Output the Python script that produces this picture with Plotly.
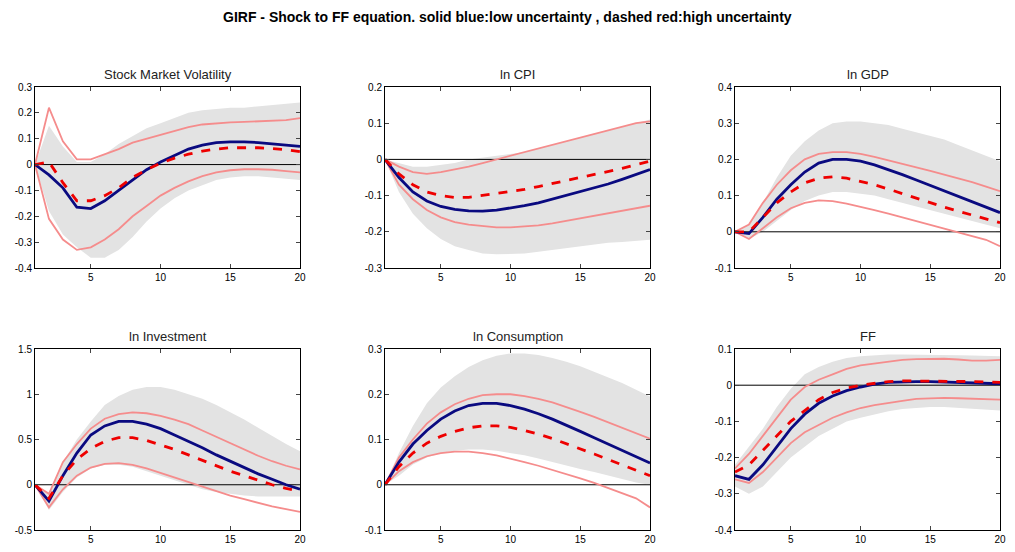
import plotly.graph_objects as go

h = list(range(1, 21))
titles = ["Stock Market Volatility", "ln CPI", "ln GDP", "ln Investment", "ln Consumption", "FF"]
yranges = [(-0.4, 0.3), (-0.3, 0.2), (-0.1, 0.4), (-0.5, 1.5), (-0.1, 0.3), (-0.4, 0.1)]
ytickvals = [
 [-0.4,-0.3,-0.2,-0.1,0,0.1,0.2,0.3],
 [-0.3,-0.2,-0.1,0,0.1,0.2],
 [-0.1,0,0.1,0.2,0.3,0.4],
 [-0.5,0,0.5,1,1.5],
 [-0.1,0,0.1,0.2,0.3],
 [-0.4,-0.3,-0.2,-0.1,0,0.1],
]
xtickvals = [5, 10, 15, 20]

low = [
 [0,-0.04,-0.09,-0.165,-0.17,-0.14,-0.1,-0.06,-0.02,0.01,0.035,0.06,0.075,0.085,0.088,0.088,0.085,0.08,0.075,0.07],
 [0,-0.05,-0.09,-0.115,-0.13,-0.138,-0.142,-0.143,-0.14,-0.135,-0.128,-0.12,-0.11,-0.1,-0.09,-0.08,-0.068,-0.055,-0.042,-0.028],
 [0,-0.005,0.04,0.09,0.13,0.165,0.19,0.2,0.2,0.195,0.185,0.172,0.158,0.143,0.128,0.113,0.098,0.083,0.068,0.053],
 [0,-0.18,0.1,0.35,0.55,0.65,0.7,0.7,0.67,0.62,0.55,0.48,0.41,0.33,0.26,0.19,0.12,0.06,0.0,-0.05],
 [0,0.05,0.09,0.12,0.145,0.163,0.175,0.18,0.18,0.175,0.167,0.157,0.145,0.132,0.118,0.104,0.09,0.076,0.062,0.048],
 [-0.25,-0.26,-0.22,-0.17,-0.12,-0.08,-0.05,-0.03,-0.015,-0.005,0.003,0.008,0.01,0.01,0.01,0.009,0.008,0.006,0.005,0.004],
]
high = [
 [0,0.01,-0.07,-0.14,-0.14,-0.12,-0.09,-0.05,-0.02,0.005,0.025,0.04,0.052,0.06,0.065,0.066,0.065,0.062,0.058,0.05],
 [0,-0.04,-0.07,-0.09,-0.1,-0.105,-0.105,-0.1,-0.095,-0.09,-0.083,-0.075,-0.067,-0.058,-0.05,-0.042,-0.033,-0.025,-0.015,-0.005],
 [0,0,0.04,0.08,0.11,0.135,0.148,0.152,0.148,0.14,0.13,0.118,0.105,0.093,0.08,0.068,0.057,0.046,0.035,0.025],
 [0,-0.15,0.1,0.28,0.4,0.48,0.52,0.52,0.49,0.44,0.39,0.33,0.27,0.21,0.15,0.1,0.05,0.0,-0.04,-0.07],
 [0,0.04,0.07,0.092,0.107,0.118,0.126,0.13,0.13,0.127,0.12,0.112,0.102,0.091,0.08,0.068,0.056,0.044,0.032,0.02],
 [-0.24,-0.22,-0.18,-0.14,-0.1,-0.07,-0.04,-0.02,-0.008,0,0.005,0.01,0.012,0.012,0.012,0.012,0.011,0.01,0.009,0.008],
]
high_up = [
 [0,0.22,0.09,0.02,0.02,0.04,0.06,0.085,0.1,0.115,0.13,0.145,0.155,0.16,0.163,0.165,0.167,0.168,0.172,0.18],
 [0,-0.02,-0.035,-0.04,-0.035,-0.028,-0.02,-0.01,0,0.01,0.02,0.03,0.04,0.05,0.06,0.07,0.08,0.09,0.1,0.105],
 [0,0.02,0.08,0.13,0.17,0.2,0.215,0.22,0.22,0.215,0.207,0.198,0.188,0.178,0.168,0.158,0.148,0.137,0.125,0.112],
 [0,-0.1,0.25,0.45,0.62,0.73,0.78,0.8,0.79,0.76,0.72,0.67,0.6,0.53,0.46,0.39,0.32,0.26,0.21,0.17],
 [0,0.06,0.1,0.135,0.16,0.178,0.19,0.198,0.2,0.2,0.196,0.19,0.182,0.172,0.161,0.15,0.138,0.126,0.114,0.102],
 [-0.23,-0.19,-0.14,-0.09,-0.04,-0.005,0.015,0.03,0.045,0.055,0.06,0.066,0.07,0.072,0.073,0.073,0.071,0.068,0.068,0.07],
]
high_lo = [
 [0,-0.21,-0.29,-0.33,-0.32,-0.29,-0.25,-0.2,-0.16,-0.12,-0.09,-0.065,-0.045,-0.03,-0.022,-0.018,-0.018,-0.02,-0.025,-0.03],
 [0,-0.07,-0.11,-0.14,-0.16,-0.173,-0.18,-0.185,-0.188,-0.188,-0.186,-0.182,-0.177,-0.17,-0.163,-0.156,-0.148,-0.14,-0.133,-0.128],
 [0,-0.02,0.01,0.04,0.065,0.08,0.087,0.085,0.078,0.07,0.06,0.05,0.04,0.03,0.02,0.01,0,-0.01,-0.022,-0.04],
 [0,-0.25,-0.05,0.1,0.19,0.23,0.24,0.22,0.18,0.13,0.08,0.03,-0.02,-0.07,-0.12,-0.16,-0.2,-0.24,-0.27,-0.3],
 [0,0.03,0.05,0.063,0.07,0.073,0.073,0.07,0.065,0.058,0.05,0.042,0.033,0.024,0.014,0.004,-0.007,-0.018,-0.03,-0.05],
 [-0.26,-0.27,-0.24,-0.2,-0.16,-0.13,-0.11,-0.09,-0.075,-0.063,-0.055,-0.048,-0.043,-0.038,-0.036,-0.035,-0.036,-0.037,-0.038,-0.04],
]
low_up = [
 [0,0.15,0.07,0.01,0.01,0.04,0.08,0.11,0.14,0.16,0.18,0.2,0.21,0.215,0.22,0.22,0.225,0.23,0.235,0.24],
 [0,-0.01,-0.02,-0.02,-0.015,-0.01,0,0.005,0.01,0.015,0.02,0.03,0.04,0.05,0.06,0.07,0.08,0.09,0.1,0.11],
 [0,0.02,0.08,0.15,0.21,0.25,0.28,0.3,0.305,0.305,0.3,0.295,0.285,0.275,0.265,0.255,0.24,0.225,0.21,0.195],
 [0,-0.1,0.25,0.5,0.7,0.88,0.98,1.05,1.08,1.08,1.05,1.0,0.95,0.88,0.8,0.72,0.63,0.54,0.45,0.37],
 [0,0.07,0.13,0.18,0.215,0.24,0.26,0.275,0.285,0.29,0.29,0.287,0.28,0.272,0.262,0.25,0.238,0.225,0.21,0.195],
 [-0.22,-0.17,-0.12,-0.06,-0.01,0.03,0.05,0.065,0.075,0.08,0.083,0.085,0.085,0.085,0.085,0.085,0.083,0.082,0.08,0.08],
]
low_lo = [
 [0,-0.18,-0.27,-0.32,-0.36,-0.36,-0.33,-0.28,-0.22,-0.17,-0.13,-0.1,-0.08,-0.06,-0.05,-0.045,-0.045,-0.05,-0.055,-0.06],
 [0,-0.09,-0.15,-0.19,-0.22,-0.24,-0.25,-0.26,-0.262,-0.262,-0.26,-0.255,-0.25,-0.245,-0.24,-0.235,-0.23,-0.228,-0.225,-0.222],
 [0,-0.02,0,0.03,0.06,0.085,0.1,0.11,0.11,0.105,0.1,0.09,0.08,0.07,0.06,0.05,0.04,0.03,0.02,0.01],
 [0,-0.28,-0.08,0.08,0.18,0.22,0.22,0.2,0.15,0.1,0.05,0,-0.05,-0.08,-0.1,-0.12,-0.13,-0.13,-0.13,-0.13],
 [0,0.02,0.045,0.06,0.07,0.075,0.078,0.078,0.075,0.07,0.065,0.058,0.05,0.042,0.035,0.028,0.02,0.012,0.005,0],
 [-0.28,-0.3,-0.28,-0.24,-0.2,-0.17,-0.14,-0.12,-0.1,-0.09,-0.08,-0.072,-0.066,-0.062,-0.06,-0.06,-0.062,-0.064,-0.067,-0.07],
]

OFF = 8
W, H = 1015 - 2 * OFF, 552 - 2 * OFF
xdoms = [(35, 300), (385, 650), (735, 1000)]
ydoms = [(87, 268), (349, 530)]

fig = go.Figure()
font = "Liberation Sans, Arial, sans-serif"
for i in range(6):
    r, c = divmod(i, 3)
    ax = "" if i == 0 else str(i + 1)
    xa, ya = "x" + ax, "y" + ax
    fig.add_trace(go.Scatter(x=h, y=low_up[i], mode="lines", line=dict(width=0), xaxis=xa, yaxis=ya, hoverinfo="skip"))
    fig.add_trace(go.Scatter(x=h, y=low_lo[i], mode="lines", line=dict(width=0), fill="tonexty",
                             fillcolor="#e3e3e3", xaxis=xa, yaxis=ya, hoverinfo="skip"))
    fig.add_trace(go.Scatter(x=[1, 20], y=[0, 0], mode="lines", line=dict(color="black", width=1), xaxis=xa, yaxis=ya))
    for band in (high_up[i], high_lo[i]):
        fig.add_trace(go.Scatter(x=h, y=band, mode="lines", line=dict(color="#f58c8c", width=1.8), xaxis=xa, yaxis=ya))
    fig.add_trace(go.Scatter(x=h, y=low[i], mode="lines", line=dict(color="#0a0a80", width=2.8), xaxis=xa, yaxis=ya))
    fig.add_trace(go.Scatter(x=h, y=high[i], mode="lines", line=dict(color="#ee0000", width=2.8, dash="dash"), xaxis=xa, yaxis=ya))
    x0, x1 = [v - OFF for v in xdoms[c]]
    y0, y1 = [v - OFF for v in ydoms[r]]
    common = dict(showline=True, linecolor="black", linewidth=1, mirror="ticks", ticks="inside", ticklen=4,
                  showgrid=False, zeroline=False, automargin=False,
                  tickfont=dict(size=10, family=font, color="black"))
    fig.layout["xaxis" + ax] = dict(domain=[x0 / W, x1 / W], range=[1, 20], tickmode="array",
                                    tickvals=xtickvals, ticktext=[str(v) for v in xtickvals],
                                    anchor=ya, **common)
    lo, hi = yranges[i]
    fig.layout["yaxis" + ax] = dict(domain=[1 - y1 / H, 1 - y0 / H], range=[lo, hi], tickmode="array",
                                    tickvals=ytickvals[i], ticktext=["%g" % v for v in ytickvals[i]],
                                    anchor=xa, **common)
    fig.add_annotation(x=(x0 + x1) / 2 / W, y=1 - (y0 - 3) / H, xref="paper", yref="paper", text=titles[i],
                       showarrow=False, xanchor="center", yanchor="bottom",
                       font=dict(size=13, family=font, color="#222"))

fig.add_annotation(x=0.5, y=1 - (17 - OFF) / H, xref="paper", yref="paper", xanchor="center", yanchor="middle",
                   text="<b>GIRF - Shock to FF equation. solid blue:low uncertainty , dashed red:high uncertainty</b>",
                   showarrow=False, font=dict(size=14, family=font, color="black"))
fig.update_layout(width=W, height=H, margin=dict(l=0, r=0, t=0, b=0, autoexpand=False), showlegend=False,
                  plot_bgcolor="white", paper_bgcolor="white")
fig.write_html("out.html")
